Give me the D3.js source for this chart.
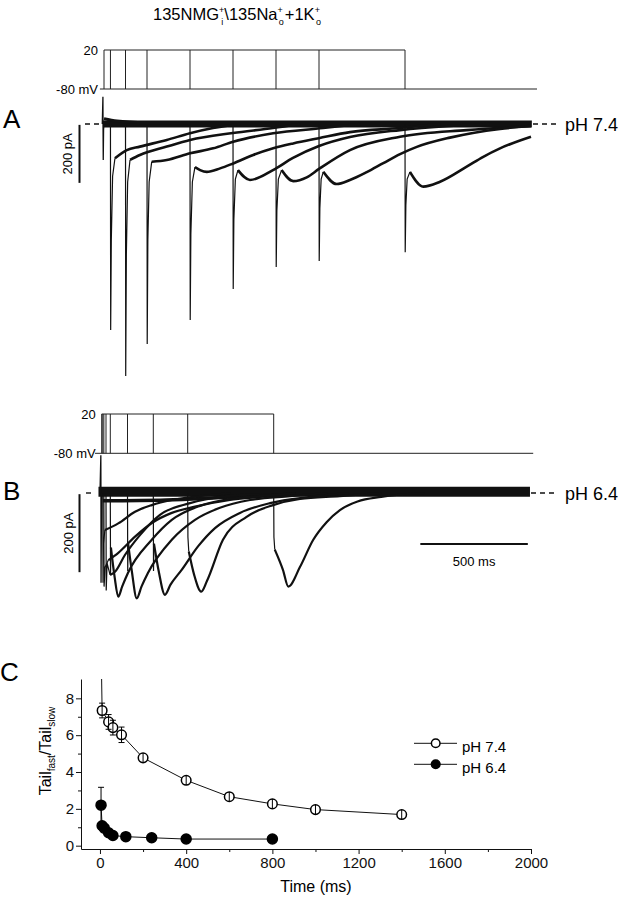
<!DOCTYPE html>
<html>
<head>
<meta charset="utf-8">
<script src="https://d3js.org/d3.v7.min.js"></script>
<style>
  body { margin: 0; background: #fff; }
  svg { display: block; font-family: "Liberation Sans", Arial, sans-serif; }
</style>
</head>
<body>
<script>
// ---------- data (time in ms, current in pA) ----------
var pulsesA = [30, 100, 200, 400, 600, 800, 1000, 1400];
var pulsesB = [5, 10, 20, 40, 120, 240, 400, 800];

// fast tail spikes, panel A (pH 7.4)
var spikesA = [
  [[30,0],[31,-710],[34,-400],[40,-180],[51,-118]],
  [[100,0],[101,-869],[104,-450],[110,-200],[121,-124]],
  [[200,0],[201,-759],[204,-400],[210,-200],[222,-130]],
  [[400,0],[401,-676],[404,-380],[411,-200],[423,-149]],
  [[600,0],[601,-569],[604,-330],[611,-190],[623,-159]],
  [[800,0],[801,-493],[804,-300],[811,-190],[826,-159]],
  [[1000,0],[1001,-472],[1004,-290],[1010,-190],[1020,-165]],
  [[1400,0],[1401,-442],[1404,-280],[1410,-190],[1423,-165]]
];
// slow tails, panel A
var slowA = [
  [[51,-118],[106,-90],[167,-78],[292,-55],[400,-32],[507,-14],[633,0]],
  [[121,-124],[167,-107],[292,-78],[400,-55],[600,-31],[786,-14],[912,0]],
  [[222,-130],[292,-124],[400,-101],[508,-84],[601,-61],[787,-32],[1019,-14],[1191,0]],
  [[423,-149],[447,-159],[478,-165],[540,-153],[601,-136],[694,-107],[787,-84],[880,-67],[999,-49],[1144,-28],[1377,-14],[1563,0]],
  [[623,-159],[679,-193],[786,-159],[879,-117],[1000,-76],[1144,-45],[1377,-21],[1609,-7],[1795,0]],
  [[826,-159],[880,-197],[943,-184],[1000,-155],[1144,-90],[1377,-44],[1687,-21],[1986,-7]],
  [[1020,-165],[1082,-207],[1144,-193],[1222,-166],[1299,-135],[1377,-104],[1455,-79],[1609,-47],[1842,-17],[1986,-7]],
  [[1423,-165],[1485,-216],[1563,-199],[1687,-147],[1764,-113],[1842,-84],[1986,-44]]
];
var capA = [[-8,0],[-5,94],[-4.5,0],[-3.5,-124],[-2,-20],[0,0]];
var bandA = [[-5,0],[1990,0]];
var earlyA = [[0,18],[60,10],[200,4],[400,2]];

// panel B (pH 6.4)
var spikesB = [
  [[5,0],[6,-230],[8,-130],[15,-95]],
  [[10,0],[11,-240],[16,-190],[31,-172]],
  [[20,0],[21,-250],[25,-180],[39,-210]],
  [[40,0],[41,-210],[43,-140]],
  [[120,0],[121,-200],[123,-130]],
  [[240,0],[241,-200],[243,-130]],
  [[400,0],[401,-113],[405,-150]],
  [[800,0],[801,-113],[805,-145]]
];
var slowB = [
  [[15,-95],[77,-78],[155,-48],[233,-31],[326,-18],[457,-8],[600,0]],
  [[31,-172],[76,-154],[155,-112],[233,-77],[326,-51],[434,-35],[597,-18],[736,-10],[900,0]],
  [[39,-210],[62,-202],[108,-159],[178,-108],[271,-56],[411,-26],[550,-10],[736,-3]],
  [[43,-140],[60,-215],[77,-266],[95,-240],[122,-205],[233,-120],[326,-69],[457,-33],[597,-15],[736,-8],[900,0]],
  [[123,-130],[140,-200],[163,-270],[185,-240],[215,-205],[326,-120],[434,-69],[550,-38],[690,-18],[876,-8],[1050,0]],
  [[243,-130],[265,-200],[294,-261],[320,-235],[372,-197],[448,-137],[527,-90],[643,-51],[783,-26],[969,-10],[1150,0]],
  [[405,-150],[430,-210],[463,-253],[490,-225],[564,-120],[674,-61],[797,-31],[922,-15],[1108,-8],[1300,0]],
  [[805,-145],[843,-197],[868,-240],[922,-190],[984,-120],[1046,-75],[1108,-44],[1190,-22],[1300,-10],[1500,0]]
];
var capB = [[-8,0],[-4,97],[-3.5,0],[-3,-230],[-1,-40],[0,0]];
var bandB = [[-15,3],[1992,3]];
var lowB = [[5,-20],[300,-18],[600,-10],[900,-4]];

// panel C
var timesHi = [5, 10, 40, 60, 100, 200, 400, 600, 800, 1000, 1400];
var ratioHi = [11, 7.34, 6.72, 6.41, 6.02, 4.77, 3.55, 2.66, 2.27, 1.96, 1.69];
var errHi   = [0, 0.4, 0.4, 0.4, 0.42, 0.15, 0.12, 0.1, 0.1, 0.1, 0.1];
var timesLo = [5, 10, 20, 40, 60, 120, 240, 400, 800];
var ratioLo = [2.2, 1.08, 0.95, 0.7, 0.55, 0.49, 0.43, 0.36, 0.36];
var errLo   = [0.97, 0.15, 0, 0, 0, 0, 0, 0, 0];
var xTicksC = [0, 400, 800, 1200, 1600, 2000];
var xMinorC = [200, 600, 1000, 1400, 1800];
var yTicksC = [0, 2, 4, 6, 8];
var yMinorC = [1, 3, 5, 7];

// ---------- drawing ----------
var svg = d3.select("body").append("svg").attr("width", 628).attr("height", 900);

// title with stacked super/subscripts
var title = svg.append("text").attr("x", 153).attr("y", 20).style("font-size", "16.5px");
title.append("tspan").text("135NMG");
title.append("tspan").text("+").style("font-size", "9px").attr("dy", -7);
title.append("tspan").text("i").style("font-size", "9px").attr("dx", -3).attr("dy", 12);
title.append("tspan").text("\\135Na").attr("dx", 1).attr("dy", -5);
title.append("tspan").text("+").style("font-size", "9px").attr("dy", -7);
title.append("tspan").text("o").style("font-size", "9px").attr("dx", -4).attr("dy", 12);
title.append("tspan").text("+1K").attr("dx", 1).attr("dy", -5);
title.append("tspan").text("+").style("font-size", "9px").attr("dy", -7);
title.append("tspan").text("o").style("font-size", "9px").attr("dx", -4).attr("dy", 12);

function letter(t, x, y) {
  svg.append("text").attr("x", x).attr("y", y).text(t).style("font-size", "26px");
}
letter("A", 3, 128);
letter("B", 3, 500);
letter("C", 0, 681);

function protocol(x, v, pulses, tFrom, tTo) {
  var g = svg.append("g").attr("stroke", "#222").attr("stroke-width", 1).attr("fill", "none");
  g.append("line").attr("x1", x(tFrom)).attr("x2", x(tTo)).attr("y1", v(-80)).attr("y2", v(-80));
  g.append("line").attr("x1", x(0)).attr("x2", x(d3.max(pulses))).attr("y1", v(20)).attr("y2", v(20));
  [0].concat(pulses).forEach(function(p) {
    g.append("line").attr("x1", x(p)).attr("x2", x(p)).attr("y1", v(-80)).attr("y2", v(20));
  });
  svg.append("text").attr("x", x(0) - 6).attr("y", v(20) + 5).attr("text-anchor", "end")
    .style("font-size", "13px").text("20");
  svg.append("text").attr("x", x(0) - 6).attr("y", v(-80) + 5).attr("text-anchor", "end")
    .style("font-size", "13px").text("-80 mV");
}

function traces(x, y, cap, band, bandW, extra, extraW, spikes, slow, slowW) {
  var line = d3.line().x(function(d) { return x(d[0]); }).y(function(d) { return y(d[1]); });
  var smooth = d3.line().x(function(d) { return x(d[0]); }).y(function(d) { return y(d[1]); })
    .curve(d3.curveMonotoneX);
  var g = svg.append("g").attr("fill", "none").attr("stroke", "#111");
  g.append("path").attr("d", line(band)).attr("stroke-width", bandW);
  g.append("path").attr("d", smooth(extra)).attr("stroke-width", extraW);
  spikes.forEach(function(s) {
    g.append("path").attr("d", line(s)).attr("stroke-width", 1.2);
  });
  slow.forEach(function(s) {
    g.append("path").attr("d", smooth(s)).attr("stroke-width", slowW);
  });
  g.append("path").attr("d", line(cap)).attr("stroke-width", 1.3);
}

function scaleBar(y, label, cx) {
  svg.append("line").attr("x1", 79.5).attr("x2", 79.5).attr("y1", y(-3)).attr("y2", y(-203))
    .attr("stroke", "#111").attr("stroke-width", 2);
  svg.append("text").attr("transform", "translate(" + cx + "," + (y(-103)) + ") rotate(-90)")
    .attr("text-anchor", "middle").style("font-size", "13px").text(label);
}

function dashes(y0, xl1, xl2, xr1, xr2, label) {
  var g = svg.append("g").attr("stroke", "#111").attr("stroke-width", 1.4).attr("stroke-dasharray", "5,4");
  g.append("line").attr("x1", xl1).attr("x2", xl2).attr("y1", y0).attr("y2", y0);
  g.append("line").attr("x1", xr1).attr("x2", xr2).attr("y1", y0).attr("y2", y0);
  svg.append("text").attr("x", 565).attr("y", y0 + 6.5).style("font-size", "18px").text(label);
}

// panel A
var xA = d3.scaleLinear().domain([0, 2000]).range([104, 534]);
var yA = d3.scaleLinear().domain([0, -200]).range([124, 182]);
var vA = d3.scaleLinear().domain([-80, 20]).range([89, 50]);
protocol(xA, vA, pulsesA, -19, 2014);
traces(xA, yA, capA, bandA, 7, earlyA, 3, spikesA, slowA, 2.6);
scaleBar(yA, "200 pA", 72);
dashes(yA(0), 85, 101, 533, 556, "pH 7.4");

// panel B
var xB = d3.scaleLinear().domain([0, 2000]).range([101.7, 531.7]);
var yB = d3.scaleLinear().domain([0, -200]).range([493, 571]);
var vB = d3.scaleLinear().domain([-80, 20]).range([453.3, 414]);
protocol(xB, vB, pulsesB, -31, 2007);
traces(xB, yB, capB, bandB, 10, lowB, 3.5, spikesB, slowB, 2.2);
scaleBar(yB, "200 pA", 73);
dashes(yB(0), 86, 92, 531, 556, "pH 6.4");

// 500 ms bar
svg.append("line").attr("x1", xB(1482)).attr("x2", xB(1982)).attr("y1", 544).attr("y2", 544)
  .attr("stroke", "#111").attr("stroke-width", 2);
svg.append("text").attr("x", (xB(1482) + xB(1982)) / 2).attr("y", 566).attr("text-anchor", "middle")
  .style("font-size", "13px").text("500 ms");

// ---------- panel C ----------
var xC = d3.scaleLinear().domain([-88, 2000]).range([81, 531]);
var yC = d3.scaleLinear().domain([-0.18, 9.05]).range([849, 679]);

svg.append("defs").append("clipPath").attr("id", "clipC")
  .append("rect").attr("x", 81).attr("y", 679).attr("width", 452).attr("height", 170);

var gx = svg.append("g").attr("transform", "translate(0,849)")
  .call(d3.axisBottom(xC).tickValues(xTicksC).tickSize(5).tickSizeOuter(0).tickPadding(3)
    .tickFormat(d3.format("d")));
gx.append("g").call(d3.axisBottom(xC).tickValues(xMinorC).tickSize(3).tickFormat(""))
  .select(".domain").remove();
var gy = svg.append("g").attr("transform", "translate(81,0)")
  .call(d3.axisLeft(yC).tickValues(yTicksC).tickSize(5).tickSizeOuter(0).tickPadding(2)
    .tickFormat(d3.format("d")));
gy.append("g").call(d3.axisLeft(yC).tickValues(yMinorC).tickSize(3).tickFormat(""))
  .select(".domain").remove();
svg.selectAll(".tick text").style("font-size", "15px").attr("fill", "#111")
  .style("font-family", "'Liberation Sans', Arial, sans-serif");
svg.selectAll(".domain, .tick line").attr("stroke", "#111");

svg.append("text").attr("x", 316).attr("y", 892).attr("text-anchor", "middle")
  .style("font-size", "16px").text("Time (ms)");
var yl = svg.append("text").attr("transform", "translate(51,751) rotate(-90)")
  .attr("text-anchor", "middle").style("font-size", "16px");
yl.append("tspan").text("Tail");
yl.append("tspan").text("fast").style("font-size", "10px").attr("dy", 4);
yl.append("tspan").text("/Tail").attr("dy", -4);
yl.append("tspan").text("slow").style("font-size", "10px").attr("dy", 4);

var plot = svg.append("g").attr("clip-path", "url(#clipC)");
var lineC = d3.line().x(function(d) { return xC(d[0]); }).y(function(d) { return yC(d[1]); });
var hi = timesHi.map(function(t, i) { return [t, ratioHi[i], errHi[i]]; });
var lo = timesLo.map(function(t, i) { return [t, ratioLo[i], errLo[i]]; });

function series(data, filled, r) {
  plot.append("path").attr("d", lineC(data)).attr("fill", "none").attr("stroke", "#111").attr("stroke-width", 1);
  plot.selectAll(null).data(data).enter().append("circle")
    .attr("cx", function(d) { return xC(d[0]); }).attr("cy", function(d) { return yC(d[1]); })
    .attr("r", r).attr("fill", filled ? "#000" : "#fff").attr("stroke", "#000").attr("stroke-width", 1.5);
  data.forEach(function(d) {
    var e = d[2];
    var cx = xC(d[0]);
    if (e * 18.4 > r) {
      plot.append("line").attr("x1", cx).attr("x2", cx).attr("y1", yC(d[1] - e)).attr("y2", yC(d[1] + e))
        .attr("stroke", "#000").attr("stroke-width", 1);
      [d[1] - e, d[1] + e].forEach(function(v) {
        plot.append("line").attr("x1", cx - 3).attr("x2", cx + 3).attr("y1", yC(v)).attr("y2", yC(v))
          .attr("stroke", "#000").attr("stroke-width", 1);
      });
    } else if (!filled) {
      plot.append("line").attr("x1", cx).attr("x2", cx).attr("y1", yC(d[1]) - r).attr("y2", yC(d[1]) + r)
        .attr("stroke", "#000").attr("stroke-width", 1);
    }
  });
}
series(hi, false, 4.8);
series(lo, true, 5);

// legend
var legend = [["pH 7.4", false, 743.3], ["pH 6.4", true, 764.3]];
legend.forEach(function(l) {
  svg.append("line").attr("x1", 414).attr("x2", 457).attr("y1", l[2]).attr("y2", l[2])
    .attr("stroke", "#111").attr("stroke-width", 1);
  svg.append("circle").attr("cx", 435.7).attr("cy", l[2]).attr("r", 4.3)
    .attr("fill", l[1] ? "#000" : "#fff").attr("stroke", "#000").attr("stroke-width", 1.5);
  svg.append("text").attr("x", 462).attr("y", l[2] + 8.5).style("font-size", "15px").text(l[0]);
});
</script>
</body>
</html>
